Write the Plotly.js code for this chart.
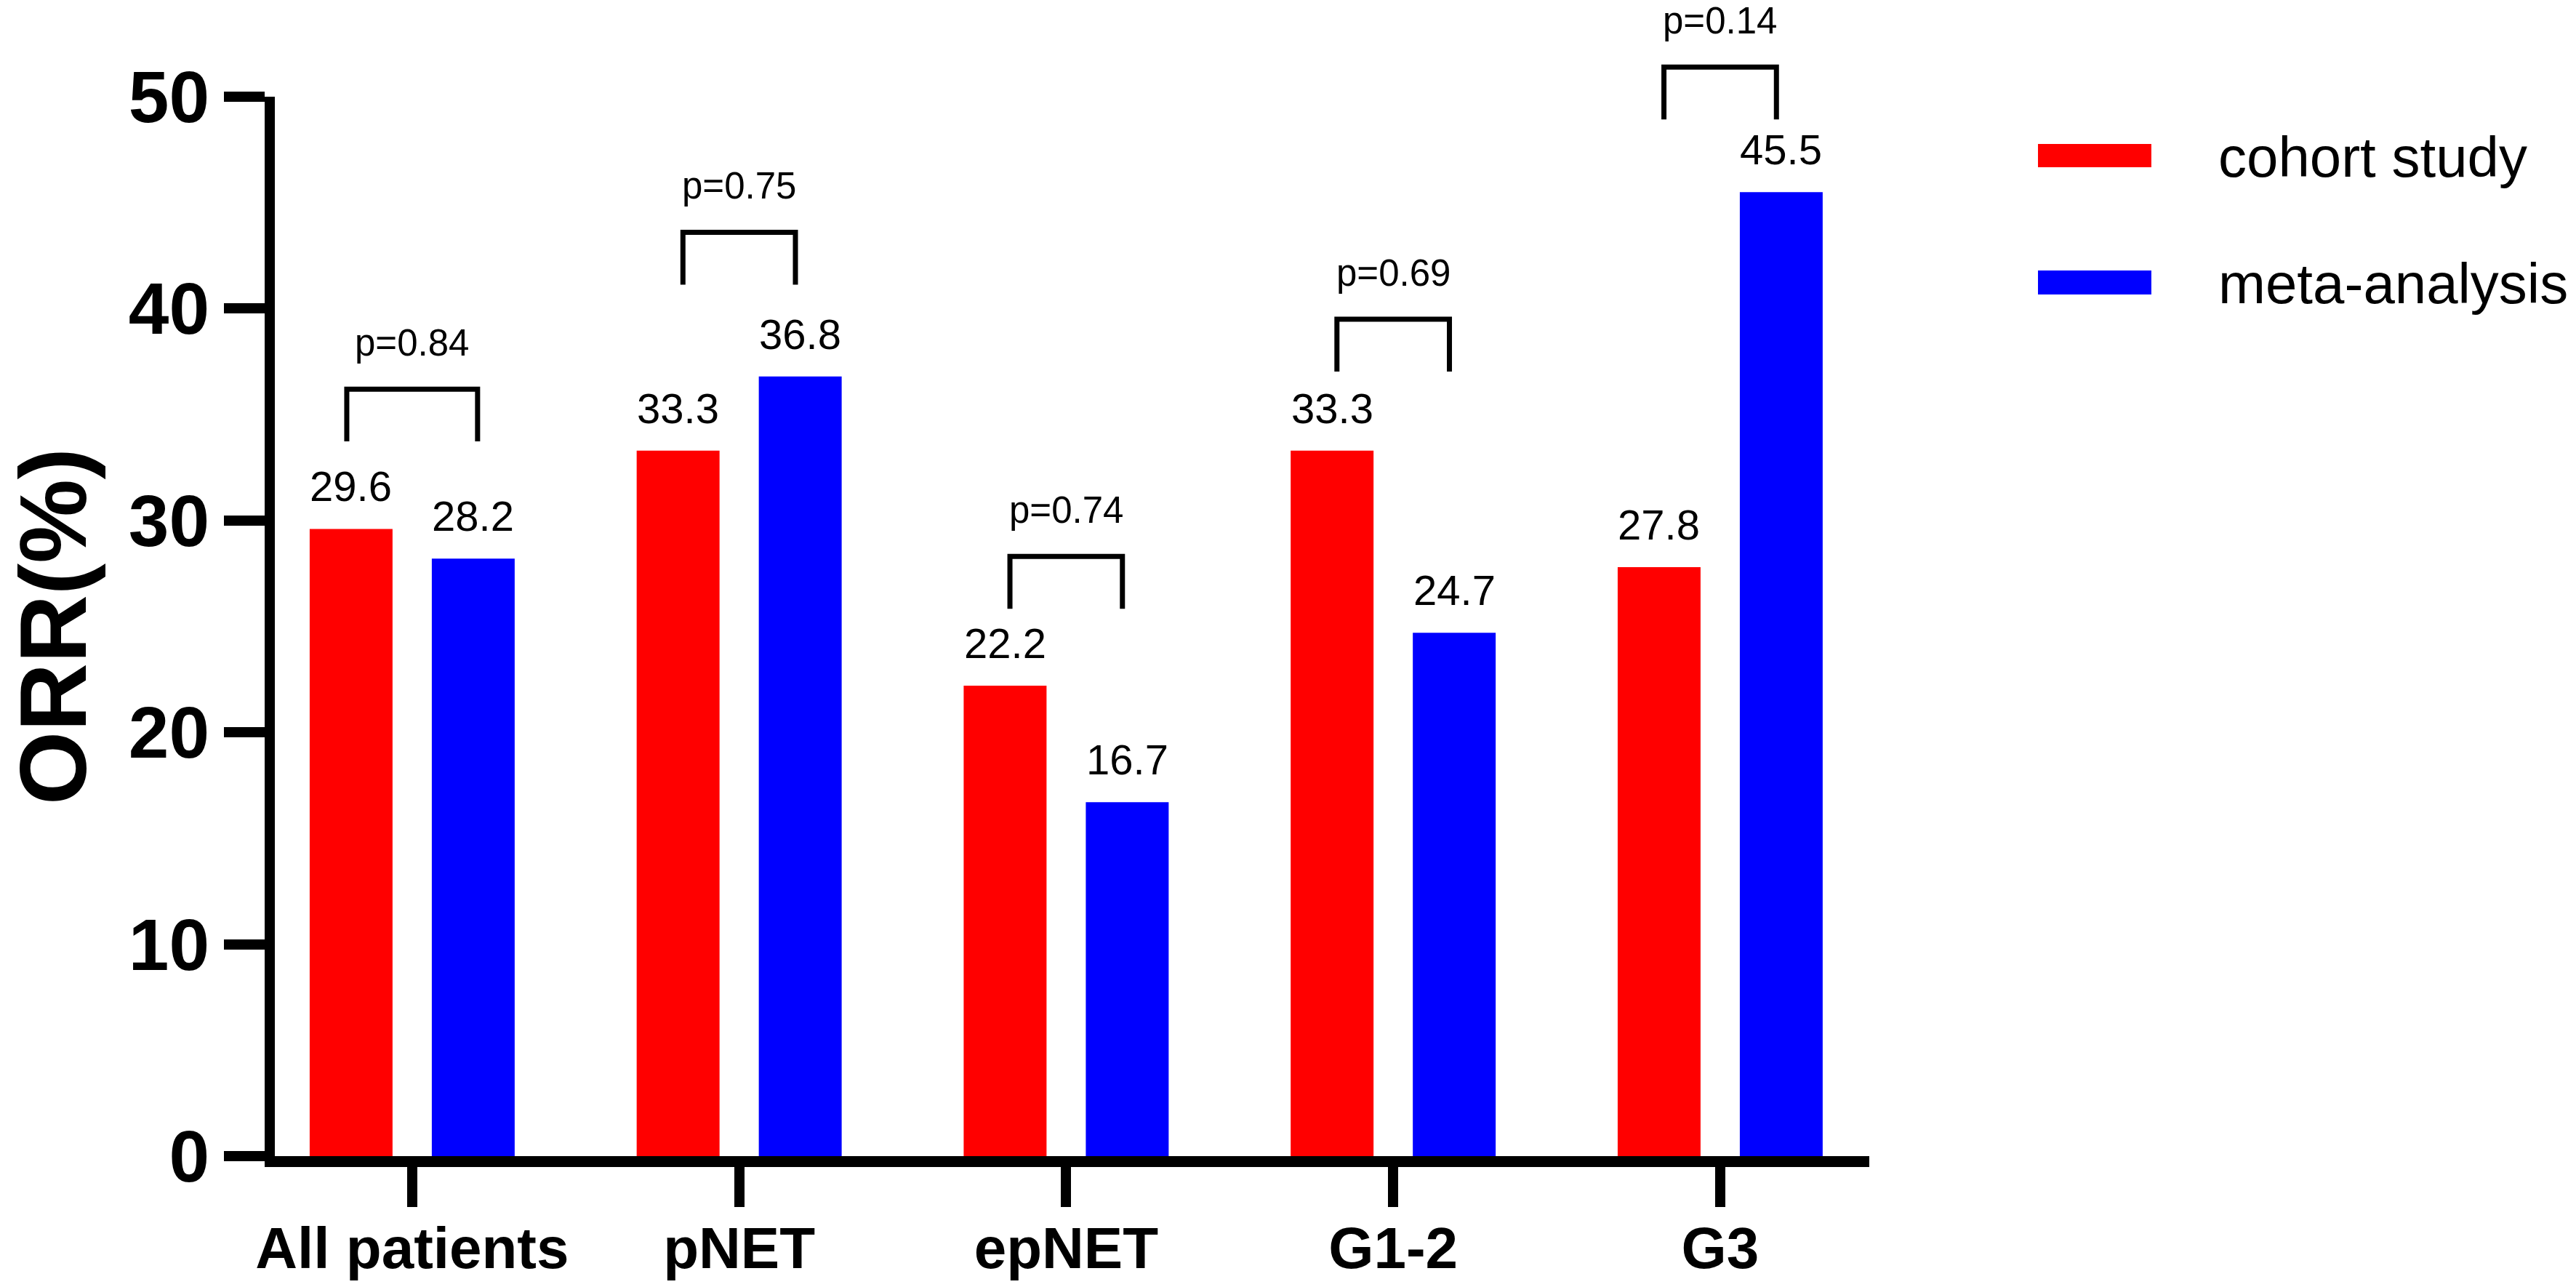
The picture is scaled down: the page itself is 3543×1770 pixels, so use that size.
<!DOCTYPE html>
<html>
<head>
<meta charset="utf-8">
<script src="https://cdn.plot.ly/plotly-3.0.1.min.js"></script>
<style>html,body{margin:0;padding:0;background:#fff;}#chart{width:3543px;height:1770px;}</style>
</head>
<body>
<div id="chart"></div>
<script>
// ---- data ----
const categories = ["All patients", "pNET", "epNET", "G1-2", "G3"];
const cohortStudy = [29.6, 33.3, 22.2, 33.3, 27.8];
const metaAnalysis = [28.2, 36.8, 16.7, 24.7, 45.5];
const pValues = ["p=0.84", "p=0.75", "p=0.74", "p=0.69", "p=0.14"];
const bracketTop = [36.2, 43.6, 28.3, 39.5, 51.4];
const seriesNames = ["cohort study", "meta-analysis"];
const yTicks = [0, 10, 20, 30, 40, 50];
const yRange = [0, 50];

// ---- style ----
const FONT = "Liberation Sans, Arial, sans-serif";
const RED = "#FF0000", BLUE = "#0000FF";
const bargap = 0.253, bargroupgap = 0.3215;
const slot = (1 - bargap) / 2;          // width of one group slot in category units
const barOffset = slot / 2;             // centre offset of each bar
const bracketHalf = [0.2, 0.172, 0.172, 0.172, 0.172];
const legLen = 2.47;
// brackets/labels may rise above the axis range, so place them in paper units
const toPaper = v => (v - yRange[0]) / (yRange[1] - yRange[0]);

const idx = categories.map((_, i) => i);

const traces = [
  {type: "bar", x: idx, y: cohortStudy, name: seriesNames[0], marker: {color: RED, line: {width: 0}}, hoverinfo: "x+y"},
  {type: "bar", x: idx, y: metaAnalysis, name: seriesNames[1], marker: {color: BLUE, line: {width: 0}}, hoverinfo: "x+y"}
];

const shapes = [];
const annotations = [];

// significance brackets
idx.forEach(i => {
  const t = bracketTop[i], h = bracketHalf[i];
  const yt = toPaper(t), yb = toPaper(t - legLen);
  shapes.push({
    type: "path", xref: "x", yref: "paper",
    path: `M ${i - h} ${yb} L ${i - h} ${yt} L ${i + h} ${yt} L ${i + h} ${yb}`,
    line: {color: "#000", width: 7}, fillcolor: "rgba(0,0,0,0)"
  });
  annotations.push({x: i, y: yt, xref: "x", yref: "paper", text: pValues[i],
    showarrow: false, yanchor: "bottom", yshift: 33, font: {family: FONT, size: 51, color: "#000"}});
});

idx.forEach(i => {
  annotations.push({x: i - barOffset, y: cohortStudy[i], xref: "x", yref: "y", text: cohortStudy[i].toFixed(1),
    showarrow: false, yanchor: "bottom", yshift: 24, font: {family: FONT, size: 58, color: "#000"}});
  annotations.push({x: i + barOffset, y: metaAnalysis[i], xref: "x", yref: "y", text: metaAnalysis[i].toFixed(1),
    showarrow: false, yanchor: "bottom", yshift: 24, font: {family: FONT, size: 58, color: "#000"}});
});

// manual legend (large swatches)
const legendRows = [{color: RED, y0: 0.9334, y1: 0.9554, ty: 0.9430}, {color: BLUE, y0: 0.8133, y1: 0.8360, ty: 0.8235}];
legendRows.forEach((r, k) => {
  shapes.push({type: "rect", xref: "paper", yref: "paper", x0: 1.1058, x1: 1.1769, y0: r.y0, y1: r.y1,
    fillcolor: r.color, line: {width: 0}});
  annotations.push({xref: "paper", yref: "paper", x: 1.218, y: r.ty, xanchor: "left", yanchor: "middle",
    text: seriesNames[k], showarrow: false, font: {family: FONT, size: 78, color: "#000"}});
});

const layout = {
  width: 3543, height: 1770,
  margin: {l: 378, r: 972, t: 133, b: 180, pad: 0},
  paper_bgcolor: "#fff", plot_bgcolor: "#fff",
  barmode: "group", bargap: bargap, bargroupgap: bargroupgap,
  showlegend: false,
  font: {family: FONT, color: "#000"},
  xaxis: {
    type: "linear", range: [-0.42, 4.456], tickvals: idx, ticktext: categories,
    showgrid: false, zeroline: false, showline: true, linecolor: "#000", linewidth: 15,
    ticks: "outside", ticklen: 55, tickwidth: 14, tickcolor: "#000",
    ticklabelstandoff: -12,
    tickfont: {family: FONT, size: 80, color: "#000", weight: "bold"},
    fixedrange: true
  },
  yaxis: {
    range: yRange, tickvals: yTicks, ticktext: yTicks.map(String),
    showgrid: false, zeroline: false, showline: true, linecolor: "#000", linewidth: 14,
    ticks: "outside", ticklen: 56, tickwidth: 14, tickcolor: "#000",
    tickfont: {family: FONT, size: 100, color: "#000", weight: "bold"},
    title: {text: "ORR(%)", font: {family: FONT, size: 130, color: "#000", weight: "bold"}, standoff: 55},
    fixedrange: true
  },
  annotations: annotations,
  shapes: shapes
};

Plotly.newPlot("chart", traces, layout, {displayModeBar: false, staticPlot: true});
</script>
</body>
</html>
